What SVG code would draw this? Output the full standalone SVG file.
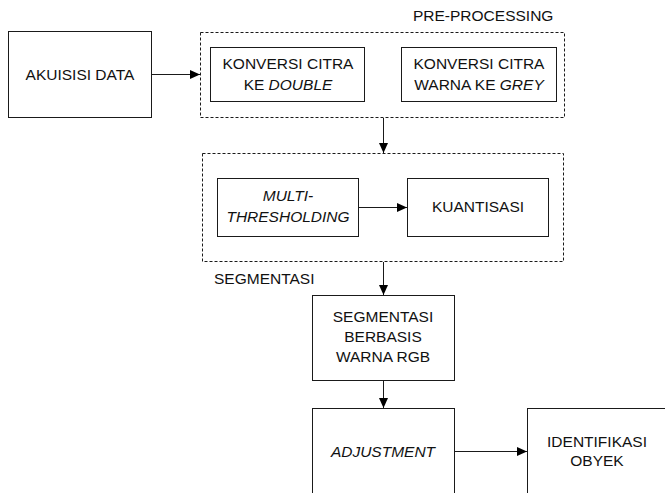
<svg xmlns="http://www.w3.org/2000/svg" width="665" height="493" viewBox="0 0 665 493">
<defs>
<style>
.box{fill:#fff;stroke:#1a1a1a;stroke-width:1}
.group{fill:none;stroke:#1a1a1a;stroke-width:1;stroke-dasharray:3 2}
.t{font-family:"Liberation Sans",Arial,sans-serif;font-size:15.5px;fill:#111;text-anchor:middle}
.lbl{font-family:"Liberation Sans",Arial,sans-serif;font-size:15.5px;fill:#111}
.c{fill:none;stroke:#1a1a1a;stroke-width:1}
</style>
<marker id="ah" viewBox="0 0 10 10" refX="10" refY="5" markerWidth="10" markerHeight="10" markerUnits="userSpaceOnUse" orient="auto">
<path d="M0,0.5 L10,5 L0,9.5 Z" fill="#000"/>
</marker>
</defs>
<rect width="665" height="493" fill="#fff"/>
<g id="pre-processing">
<rect class="group" x="200.5" y="32.5" width="364" height="85"/>
<text class="lbl" x="413" y="21">PRE-PROCESSING</text>
</g>
<g id="segmentasi-group">
<rect class="group" x="202.5" y="153.5" width="361" height="108"/>
<text class="lbl" x="214" y="284">SEGMENTASI</text>
</g>
<g id="akuisisi">
<rect class="box" x="8.5" y="31.5" width="143" height="86"/>
<text class="t" x="80" y="80">AKUISISI DATA</text>
</g>
<g id="konversi-double">
<rect class="box" x="210.5" y="47.5" width="154" height="54"/>
<text class="t" x="288" y="69">KONVERSI CITRA</text>
<text class="t" x="288" y="90">KE <tspan font-style="italic">DOUBLE</tspan></text>
</g>
<g id="konversi-grey">
<rect class="box" x="401.5" y="47.5" width="155" height="54"/>
<text class="t" x="479" y="69">KONVERSI CITRA</text>
<text class="t" x="479" y="90">WARNA KE <tspan font-style="italic">GREY</tspan></text>
</g>
<g id="multi">
<rect class="box" x="217.5" y="178.5" width="141" height="58"/>
<text class="t" x="288" y="201" font-style="italic">MULTI-</text>
<text class="t" x="288" y="222" font-style="italic">THRESHOLDING</text>
</g>
<g id="kuantisasi">
<rect class="box" x="407.5" y="178.5" width="141" height="58"/>
<text class="t" x="478" y="212">KUANTISASI</text>
</g>
<g id="segmentasi-rgb">
<rect class="box" x="312.5" y="295.5" width="142" height="85"/>
<text class="t" x="383" y="322">SEGMENTASI</text>
<text class="t" x="383" y="342">BERBASIS</text>
<text class="t" x="383" y="362">WARNA RGB</text>
</g>
<g id="adjustment">
<rect class="box" x="312.5" y="408.5" width="142" height="100"/>
<text class="t" x="383" y="457" font-style="italic">ADJUSTMENT</text>
</g>
<g id="identifikasi">
<rect class="box" x="527.5" y="408.5" width="150" height="100"/>
<text class="t" x="597" y="447">IDENTIFIKASI</text>
<text class="t" x="597" y="466">OBYEK</text>
</g>
<g id="connectors">
<line class="c" x1="152" y1="74.5" x2="200" y2="74.5" marker-end="url(#ah)"/>
<line class="c" x1="383.5" y1="118" x2="383.5" y2="153" marker-end="url(#ah)"/>
<line class="c" x1="359" y1="207.5" x2="407" y2="207.5" marker-end="url(#ah)"/>
<line class="c" x1="383.5" y1="262" x2="383.5" y2="295" marker-end="url(#ah)"/>
<line class="c" x1="383.5" y1="381" x2="383.5" y2="408" marker-end="url(#ah)"/>
<line class="c" x1="455" y1="451.5" x2="527" y2="451.5" marker-end="url(#ah)"/>
</g>
</svg>
